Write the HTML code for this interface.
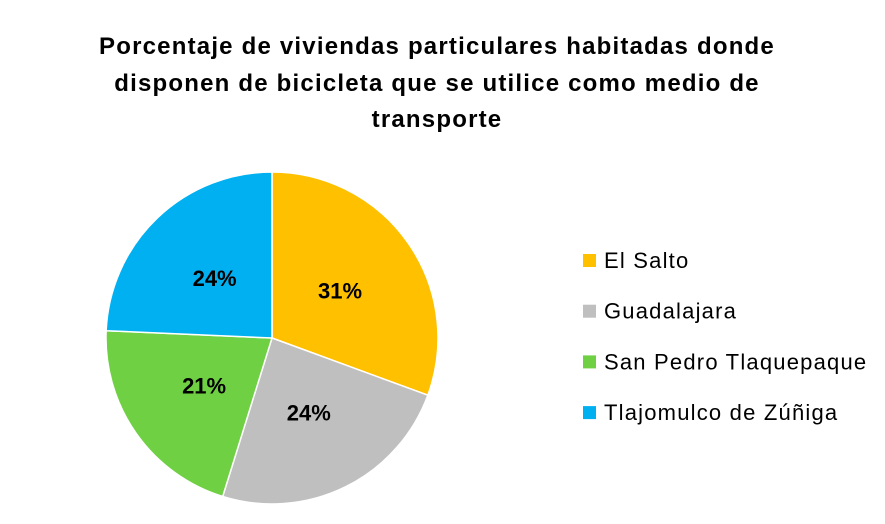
<!DOCTYPE html>
<html><head><meta charset="utf-8"><style>
body{margin:0;background:#fff;width:885px;height:519px;overflow:hidden;font-family:"Liberation Sans",sans-serif}
</style></head><body>
<svg id="chart" width="885" height="519" xmlns="http://www.w3.org/2000/svg">
<g font-family="Liberation Sans, sans-serif" font-weight="bold" font-size="24" letter-spacing="1.2" text-anchor="middle" fill="#000">
<text x="437" y="54">Porcentaje de viviendas particulares habitadas donde</text>
<text x="437" y="91">disponen de bicicleta que se utilice como medio de</text>
<text x="437" y="127">transporte</text>
</g>
<g id="slices"></g>
<g id="labels"></g>
<g id="legend"></g>
</svg>
<script>
const categories=["El Salto","Guadalajara","San Pedro Tlaquepaque","Tlajomulco de Zúñiga"];
const values=[30.6,24.2,20.9,24.3];
const labelTexts=["31%","24%","21%","24%"];
const colors=["#FFC000","#BFBFBF","#6FD043","#00B0F0"];
const NS="http://www.w3.org/2000/svg";
const cx=272,cy=338,r=166;
const total=values.reduce((a,b)=>a+b,0);
function pt(a,rr){return [cx+rr*Math.sin(a),cy-rr*Math.cos(a)];}
let acc=0;
const sg=document.getElementById('slices'),lg=document.getElementById('labels'),leg=document.getElementById('legend');
values.forEach((v,i)=>{
  const a0=acc/total*2*Math.PI;acc+=v;const a1=acc/total*2*Math.PI;
  const p0=pt(a0,r),p1=pt(a1,r);const large=(a1-a0)>Math.PI?1:0;
  const p=document.createElementNS(NS,'path');
  p.setAttribute('d',`M${cx},${cy}L${p0[0]},${p0[1]}A${r},${r} 0 ${large} 1 ${p1[0]},${p1[1]}Z`);
  p.setAttribute('fill',colors[i]);p.setAttribute('stroke','#fff');p.setAttribute('stroke-width','1.5');
  
  
  sg.appendChild(p);
  const m=(a0+a1)/2;const lp=pt(m,r*0.5);
  const t=document.createElementNS(NS,'text');
  t.setAttribute('x',lp[0]);t.setAttribute('y',lp[1]+8);t.setAttribute('text-anchor','middle');
  t.setAttribute('font-weight','bold');t.setAttribute('font-size','22');
  t.textContent=labelTexts[i];
  
  
  lg.appendChild(t);
  const y=260+i*50.7;
  const s=document.createElementNS(NS,'rect');
  s.setAttribute('x',583);s.setAttribute('y',y-6);s.setAttribute('width',13);s.setAttribute('height',13);s.setAttribute('fill',colors[i]);
  
  
  leg.appendChild(s);
  const lt=document.createElementNS(NS,'text');
  lt.setAttribute('x',604);lt.setAttribute('y',y+8);lt.setAttribute('font-size','22');lt.setAttribute('letter-spacing','1.2');
  lt.textContent=categories[i];
  
  
  leg.appendChild(lt);
});
</script>
</body></html>
